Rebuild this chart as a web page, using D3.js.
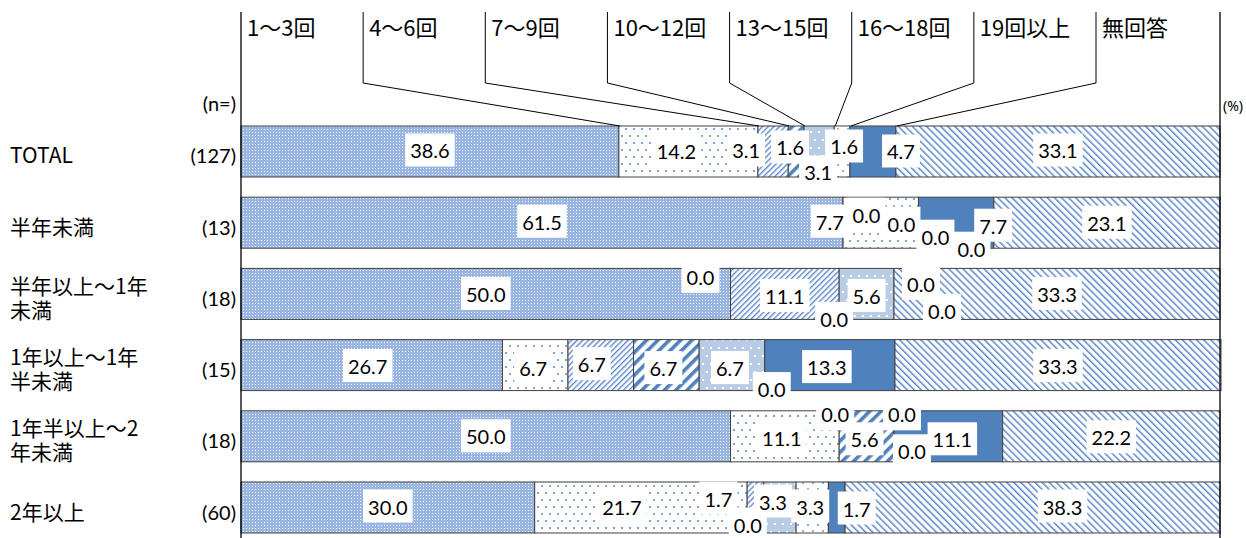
<!DOCTYPE html>
<html>
<head>
<meta charset="utf-8">
<script src="https://cdn.jsdelivr.net/npm/d3@7"></script>
<style>
  html, body { margin: 0; padding: 0; background: #fff; }
  svg { display: block; }
</style>
</head>
<body>
<svg id="chart" width="1246" height="538"></svg>
<script>
// ---- data -------------------------------------------------------------
const categories = ["TOTAL", "半年未満", "半年以上～1年\n未満", "1年以上～1年\n半未満", "1年半以上～2\n年未満", "2年以上"];
const sampleSizes = [127, 13, 18, 15, 18, 60];
const seriesNames = ["1～3回", "4～6回", "7～9回", "10～12回", "13～15回", "16～18回", "19回以上", "無回答"];

const times1to3   = [38.6, 61.5, 50.0, 26.7, 50.0, 30.0];
const times4to6   = [14.2,  7.7,  0.0,  6.7, 11.1, 21.7];
const times7to9   = [ 3.1,  0.0, 11.1,  6.7,  0.0,  1.7];
const times10to12 = [ 1.6,  0.0,  0.0,  6.7,  5.6,  0.0];
const times13to15 = [ 3.1,  0.0,  5.6,  6.7,  0.0,  3.3];
const times16to18 = [ 1.6,  0.0,  0.0,  0.0,  0.0,  3.3];
const times19plus = [ 4.7,  7.7,  0.0, 13.3, 11.1,  1.7];
const noAnswer    = [33.1, 23.1, 33.3, 33.3, 22.2, 38.3];

const seriesValues = [times1to3, times4to6, times7to9, times10to12, times13to15, times16to18, times19plus, noAnswer];

// label nudges [dx, dy] from the segment centre, so small labels don't collide
const labelNudge = [
  [[0,0],[-12,1],[-27,0],[-6,-3],[-1,22],[2,-4],[28,1],[0,0]],
  [[0,0],[-51,0],[-52,-7],[-17,2],[17,15],[53,27],[37,4],[0,1]],
  [[0,1],[-30,-16],[0,3],[-5,26],[0,3],[27,-9],[48,18],[0,1]],
  [[-4,2],[-2,4],[-9,0],[-3,4],[-2,4],[7,25],[-3,3],[0,2]],
  [[0,1],[-3,3],[-4,-21],[-2,4],[8,-21],[18,16],[4,4],[0,2]],
  [[0,0],[-19,0],[-37,-8],[-16,18],[-7,-5],[-2,0],[20,2],[30,0]]
];

// ---- layout -----------------------------------------------------------
const svg = d3.select("#chart");
const x = d3.scaleLinear().domain([0, 100]).range([241, 1220]);
const y = d3.scaleBand().domain(d3.range(categories.length)).range([105.8, 553.2]).padding(0.2837);

const BLUE = "#4f81bd";
const MID = "#5b87c9";

// ---- fill patterns ----------------------------------------------------
const defs = svg.append("defs");
function tile(id, w, h, bg, transform) {
  const pt = defs.append("pattern").attr("id", id).attr("patternUnits", "userSpaceOnUse")
    .attr("width", w).attr("height", h);
  if (transform) pt.attr("patternTransform", transform);
  pt.append("rect").attr("width", w).attr("height", h).attr("fill", bg);
  return pt;
}
function dot(pt, px, py, s, c) {
  pt.append("rect").attr("x", px).attr("y", py).attr("width", s).attr("height", s).attr("fill", c);
}

// 1~3: fine light-blue grid
let p = tile("pat0", 3, 3, "#98b6e1");
dot(p, 0, 0, 1, "#fff");

// 4~6: small dots on white
p = tile("pat1", 8, 14, "#fff");
dot(p, 1, 2, 2, "#7ea2d6");
dot(p, 5, 9, 2, "#7ea2d6");

// 7~9: thin upward diagonal
p = tile("pat2", 4, 4, "#fff", "rotate(45)");
p.append("rect").attr("width", 1.4).attr("height", 4).attr("fill", MID);

// 10~12: wide upward diagonal
p = tile("pat3", 8, 8, "#fff", "rotate(45)");
p.append("rect").attr("width", 3.6).attr("height", 8).attr("fill", BLUE);

// 13~15: light blue with white dots
p = tile("pat4", 8, 16, "#b8cce6");
dot(p, 2, 3, 2, "#fff");
dot(p, 6, 11, 2, "#fff");

// 16~18: sparse blue dots on white
p = tile("pat5", 10, 12, "#fff");
dot(p, 2, 2, 2, "#8eaedb");
dot(p, 7, 8, 2, "#8eaedb");

// no answer: thin downward diagonal
p = tile("pat7", 5, 5, "#fff", "rotate(-45)");
p.append("rect").attr("width", 1.5).attr("height", 5).attr("fill", MID);

const fills = ["url(#pat0)", "url(#pat1)", "url(#pat2)", "url(#pat3)", "url(#pat4)", "url(#pat5)", BLUE, "url(#pat7)"];

// ---- stacked segments -------------------------------------------------
const rows = categories.map((c, i) => {
  let acc = 0;
  return seriesValues.map((s, k) => {
    const seg = { row: i, series: k, value: s[i], x0: acc, x1: acc + s[i] };
    acc += s[i];
    return seg;
  });
});
const segments = rows.flat();

svg.append("g").selectAll("rect")
  .data(segments.filter(d => d.value > 0))
  .join("rect")
  .attr("x", d => x(d.x0))
  .attr("y", d => y(d.row))
  .attr("width", d => x(d.x1) - x(d.x0))
  .attr("height", y.bandwidth())
  .attr("fill", d => fills[d.series])
  .attr("stroke", "#404040")
  .attr("stroke-width", 1);

// ---- frame lines ------------------------------------------------------
svg.append("line").attr("x1", x(0)).attr("x2", x(0)).attr("y1", 12).attr("y2", 538)
  .attr("stroke", "#000").attr("stroke-width", 1.3);
svg.append("line").attr("x1", x(100)).attr("x2", x(100)).attr("y1", 12).attr("y2", 538)
  .attr("stroke", "#000").attr("stroke-width", 1.3);

// ---- legend with leader lines to the TOTAL bar ------------------------
const legendX = d3.scaleLinear().domain([0, seriesNames.length - 1]).range([241, 1096]);
const legend = svg.append("g");
seriesNames.forEach((name, k) => {
  const lx = legendX(k);
  if (k > 0) {
    const seg = rows[0][k];
    legend.append("polyline")
      .attr("points", `${lx},12 ${lx},83 ${x(seg.x0) + 1},${y(0)}`)
      .attr("fill", "none").attr("stroke", "#000").attr("stroke-width", 1);
  }
  legend.append("text")
    .attr("x", lx + 6).attr("y", 36)
    .attr("font-family", "'Noto Sans CJK JP', sans-serif")
    .attr("font-size", 22)
    .attr("fill", "#000")
    .text(name);
});

// ---- value labels -----------------------------------------------------
const labels = svg.append("g").attr("font-family", "Lato, 'Liberation Sans', sans-serif").attr("font-size", 20);
segments.forEach(d => {
  const [dx, dy] = labelNudge[d.row][d.series];
  const cx = (x(d.x0) + x(d.x1)) / 2 + dx;
  const cy = y(d.row) + y.bandwidth() / 2 + dy;
  const g = labels.append("g");
  const box = g.append("rect").attr("fill", "#fff");
  const t = g.append("text")
    .attr("x", cx).attr("y", cy + 7)
    .attr("text-anchor", "middle")
    .attr("fill", "#000")
    .text(d.value.toFixed(1));
  const w = t.node().getComputedTextLength() + 10;
  box.attr("x", cx - w / 2).attr("y", cy - 18).attr("width", w).attr("height", 33);
});

// ---- category labels and sample sizes ----------------------------------
const catG = svg.append("g").attr("font-family", "'Noto Sans CJK JP', sans-serif").attr("font-size", 21).attr("fill", "#000");
categories.forEach((c, i) => {
  const lines = c.split("\n");
  const cy = y(i) + y.bandwidth() / 2 + 5;
  lines.forEach((ln, j) => {
    catG.append("text")
      .attr("x", 10)
      .attr("y", cy - (lines.length - 1) * 12 + j * 24 + 7)
      .text(ln);
  });
});

const nG = svg.append("g").attr("font-family", "Lato, sans-serif").attr("font-size", 20).attr("fill", "#000").attr("text-anchor", "end");
sampleSizes.forEach((n, i) => {
  nG.append("text").attr("x", 236).attr("y", y(i) + y.bandwidth() / 2 + 12).text(`(${n})`);
});
nG.append("text").attr("x", 236).attr("y", 111).text("(n=)");

svg.append("text").attr("x", 1223).attr("y", 111)
  .attr("font-family", "'Noto Sans', sans-serif").attr("font-size", 14).attr("fill", "#000").text("(%)");
</script>
</body>
</html>
